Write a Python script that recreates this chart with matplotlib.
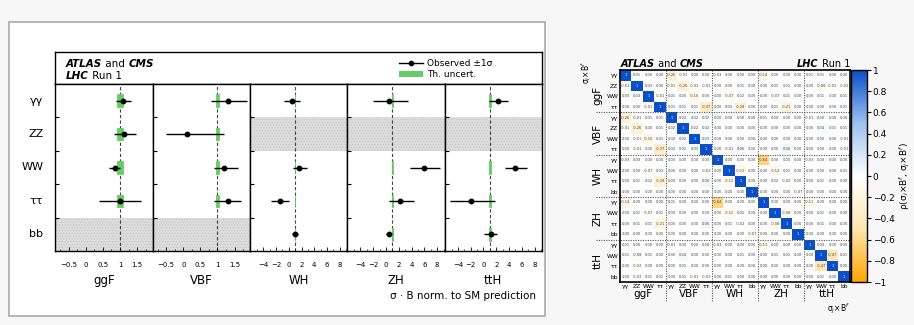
import numpy as np
import matplotlib
matplotlib.use("Agg")
import matplotlib.pyplot as plt
import matplotlib.transforms as mtransforms
from matplotlib.colors import LinearSegmentedColormap
from matplotlib.lines import Line2D
from matplotlib.patches import Patch, Rectangle

W, H = 914, 325

# ---- left chart data: signal strengths (value, +err, -err) and theory half-widths
PRODUCTION = ["ggF", "VBF", "WH", "ZH", "ttH"]
DECAYS = ["γγ", "ZZ", "WW", "ττ", "bb"]
NAN = np.nan
MU = {
    "ggF": [1.10, 1.13, 0.84, 1.00, NAN],
    "VBF": [1.30, 0.10, 1.20, 1.30, NAN],
    "WH":  [0.50, NAN, 1.60, -1.40, 1.00],
    "ZH":  [0.50, NAN, 5.90, 2.20, 0.40],
    "ttH": [2.20, NAN, 5.00, -1.90, 1.10],
}
ERR_UP = {
    "ggF": [0.23, 0.34, 0.17, 0.60, NAN],
    "VBF": [0.55, 1.10, 0.40, 0.40, NAN],
    "WH":  [1.30, NAN, 1.20, 1.40, 0.50],
    "ZH":  [3.00, NAN, 2.60, 2.20, 0.40],
    "ttH": [1.60, NAN, 1.80, 3.70, 1.00],
}
ERR_DN = {
    "ggF": [0.22, 0.31, 0.17, 0.60, NAN],
    "VBF": [0.50, 0.60, 0.30, 0.40, NAN],
    "WH":  [1.20, NAN, 1.00, 1.40, 0.50],
    "ZH":  [2.50, NAN, 2.20, 1.80, 0.40],
    "ttH": [1.30, NAN, 1.70, 3.30, 1.00],
}
TH_UNC = {
    "ggF": [0.10, 0.10, 0.10, 0.10, NAN],
    "VBF": [0.04, 0.04, 0.04, 0.04, NAN],
    "WH":  [0.05, NAN, 0.05, 0.05, 0.05],
    "ZH":  [0.07, NAN, 0.07, 0.07, 0.07],
    "ttH": [0.10, NAN, 0.10, 0.10, 0.10],
}
XLIMS = {"ggF": (-0.9, 1.95), "VBF": (-0.9, 1.95),
         "WH": (-6.1, 9.15), "ZH": (-6.1, 9.15), "ttH": (-6.1, 9.15)}
XTICKS_SMALL = [-0.5, 0, 0.5, 1, 1.5]
XTICKS_LARGE = [-4, -2, 0, 2, 4, 6, 8]

# ---- right chart data: correlation matrix
GROUPS = ["ggF", "VBF", "WH", "ZH", "ttH"]
GROUP_DECAYS = [["γγ", "ZZ", "WW", "ττ"], ["γγ", "ZZ", "WW", "ττ"],
                ["γγ", "WW", "ττ", "bb"], ["γγ", "WW", "ττ", "bb"],
                ["γγ", "WW", "ττ", "bb"]]
CORR = [
    [1, 0.01, 0.00, 0.00, -0.26, -0.01, 0.00, 0.00, -0.03, 0.00, 0.00, 0.00, -0.14, 0.00, 0.00, 0.00, 0.01, 0.01, 0.00, 0.00],
    [-0.01, 1, 0.03, 0.00, -0.01, -0.26, -0.01, -0.01, 0.00, 0.00, 0.01, 0.00, 0.00, 0.01, 0.01, 0.00, 0.00, -0.08, -0.02, -0.02],
    [0.00, 0.03, 1, -0.01, 0.01, 0.00, -0.16, 0.00, 0.00, -0.07, 0.02, 0.00, 0.00, -0.07, 0.01, 0.00, 0.00, 0.01, 0.00, 0.01],
    [0.00, 0.00, -0.01, 1, 0.01, 0.01, 0.01, -0.37, 0.00, 0.03, -0.28, 0.00, 0.00, 0.01, -0.21, 0.00, 0.00, 0.00, 0.00, 0.01],
    [-0.26, -0.01, 0.01, 0.01, 1, 0.02, 0.02, 0.02, 0.00, 0.00, 0.00, 0.00, 0.01, 0.00, 0.00, 0.00, -0.01, 0.00, 0.00, 0.00],
    [-0.01, -0.26, 0.00, 0.01, 0.02, 1, 0.02, 0.02, 0.00, 0.00, 0.00, 0.00, 0.00, 0.00, 0.00, 0.00, 0.00, 0.04, 0.01, 0.01],
    [0.00, -0.01, -0.16, 0.01, 0.02, 0.02, 1, 0.03, 0.00, 0.00, 0.00, 0.00, 0.00, 0.00, 0.00, 0.00, 0.00, 0.00, 0.00, -0.01],
    [0.00, -0.01, 0.00, -0.37, 0.02, 0.02, 0.03, 1, 0.00, -0.01, 0.06, 0.00, 0.00, 0.00, 0.06, 0.00, 0.00, 0.00, 0.00, -0.01],
    [-0.03, 0.00, 0.00, 0.00, 0.00, 0.00, 0.00, 0.00, 1, 0.00, 0.00, 0.00, -0.64, 0.00, 0.00, 0.00, -0.03, 0.00, 0.00, 0.00],
    [0.00, 0.00, -0.07, 0.03, 0.00, 0.00, 0.00, -0.01, 0.00, 1, -0.12, 0.00, 0.00, -0.12, 0.01, 0.00, 0.00, 0.00, 0.00, 0.01],
    [0.00, 0.01, 0.02, -0.28, 0.00, 0.00, 0.00, 0.06, 0.00, -0.12, 1, 0.00, 0.00, 0.02, -0.02, 0.00, 0.00, 0.01, 0.00, 0.00],
    [0.00, 0.00, 0.00, 0.00, 0.00, 0.00, 0.00, 0.00, 0.00, 0.00, 0.00, 1, 0.00, 0.00, 0.00, -0.07, 0.00, 0.00, 0.00, 0.00],
    [-0.14, 0.00, 0.00, 0.00, 0.01, 0.00, 0.00, 0.00, -0.64, 0.00, 0.00, 0.00, 1, 0.00, 0.00, 0.00, -0.11, 0.00, 0.00, 0.00],
    [0.00, 0.01, -0.07, 0.01, 0.00, 0.00, 0.00, 0.00, 0.00, -0.12, 0.02, 0.00, 0.00, 1, -0.08, 0.00, 0.00, 0.01, 0.00, 0.00],
    [0.00, 0.01, 0.01, -0.21, 0.00, 0.00, 0.00, 0.06, 0.00, 0.01, -0.02, 0.00, 0.00, -0.08, 1, 0.00, 0.00, 0.01, 0.00, 0.00],
    [0.00, 0.00, 0.00, 0.00, 0.00, 0.00, 0.00, 0.00, 0.00, 0.00, 0.00, -0.07, 0.00, 0.00, 0.00, 1, 0.00, 0.00, 0.00, 0.00],
    [0.01, 0.00, 0.00, 0.00, -0.01, 0.00, 0.00, 0.00, -0.03, 0.00, 0.00, 0.00, -0.11, 0.00, 0.00, 0.00, 1, 0.00, 0.00, 0.00],
    [0.01, -0.08, 0.01, 0.00, 0.00, 0.04, 0.00, 0.00, 0.00, 0.00, 0.01, 0.00, 0.00, 0.01, 0.01, 0.00, 0.00, 1, -0.47, 0.01],
    [0.00, -0.02, 0.00, 0.00, 0.00, 0.01, 0.00, 0.00, 0.00, 0.00, 0.00, 0.00, 0.00, 0.00, 0.00, 0.00, 0.00, -0.47, 1, 0.00],
    [0.00, -0.02, 0.01, 0.01, 0.00, 0.01, -0.01, -0.01, 0.00, 0.01, 0.00, 0.00, 0.00, 0.00, 0.00, 0.00, 0.00, 0.01, 0.00, 1],
]
CBAR_TICKS = [-1, -0.8, -0.6, -0.4, -0.2, 0, 0.2, 0.4, 0.6, 0.8, 1]

GREEN = "#66cc66"
plt.rcParams["font.family"] = ["DejaVu Sans"]
plt.rcParams["hatch.color"] = "#bdbdbd"
plt.rcParams["hatch.linewidth"] = 0.5


def box(x0, y0, x1, y1):
    """pixel box (top-left origin) -> figure fraction rect"""
    return [x0 / W, 1 - y1 / H, (x1 - x0) / W, (y1 - y0) / H]


def rich_text(fig, x, y, parts, size):
    """draw pieces of text one after another (bold-italic / normal)"""
    r = fig.canvas.get_renderer()
    tr = fig.transFigure
    for s, bold in parts:
        kw = dict(fontweight="bold", fontstyle="italic") if bold else {}
        t = fig.text(x, y, s, transform=tr, fontsize=size, va="baseline", **kw)
        bb = t.get_window_extent(r)
        tr = mtransforms.offset_copy(t.get_transform(), fig=fig, x=bb.width, units="dots")


fig = plt.figure(figsize=(W / 100, H / 100), dpi=100)
fig.patch.set_facecolor("#f7f7f7")
fig.patches.append(Rectangle((9 / W, 1 - 316 / H), (545 - 9) / W, (316 - 22) / H,
                             transform=fig.transFigure, facecolor="white",
                             edgecolor="#aaaaaa", lw=1.2, zorder=-5))

# ---------------- left: signal strengths ----------------
edges = [55, 152.5, 250, 347, 444.5, 542]
hdr = fig.add_axes(box(55, 52, 542, 84))
hdr.set_xticks([])
hdr.set_yticks([])
for s in hdr.spines.values():
    s.set_linewidth(1.0)
handles = [Line2D([], [], color="k", marker="o", ms=3, lw=1),
           Patch(facecolor=GREEN, edgecolor="none")]
hdr.legend(handles, ["Observed ±1σ", "Th. uncert."], loc="upper left",
           bbox_to_anchor=(0.69, 1.04), frameon=False, fontsize=6.5,
           handlelength=2.6, labelspacing=0.25, handletextpad=0.5)
fig.canvas.draw()
rich_text(fig, 66 / W, 1 - 67 / H, [("ATLAS", True), (" and ", False), ("CMS", True)], 7.5)
rich_text(fig, 66 / W, 1 - 79 / H, [("LHC", True), (" Run 1", False)], 7.5)

for k, prod in enumerate(PRODUCTION):
    ax = fig.add_axes(box(edges[k], 84, edges[k + 1], 251))
    lo, hi = XLIMS[prod]
    ax.set_xlim(lo, hi)
    ax.set_ylim(len(DECAYS), 0)
    ax.axvline(1, color="#444444", ls=(0, (3, 2)), lw=0.8, zorder=1)
    for i in range(len(DECAYS)):
        yc = i + 0.5
        if np.isnan(MU[prod][i]):
            ax.add_patch(Rectangle((lo, i), hi - lo, 1, facecolor="#dddddd",
                                   hatch="......", edgecolor="#c4c4c4", lw=0, zorder=0))
            continue
        th = TH_UNC[prod][i]
        ax.barh(yc, 2 * th, left=1 - th, height=0.38, color=GREEN,
                edgecolor=GREEN, lw=0.6, zorder=2)
        ax.errorbar(MU[prod][i], yc, xerr=[[ERR_DN[prod][i]], [ERR_UP[prod][i]]],
                    fmt="o", color="k", ms=3.2, lw=1, capsize=0, zorder=3)
    ticks = XTICKS_SMALL if k < 2 else XTICKS_LARGE
    ax.set_xticks(ticks)
    ax.set_xticklabels([("%g" % t).replace("-", "−") for t in ticks], fontsize=5)
    minor_step = 0.25 if k < 2 else 1.0
    ax.set_xticks(np.arange(ticks[0] - minor_step, hi, minor_step), minor=True)
    ax.tick_params(axis="x", which="major", direction="in", length=3, pad=8, width=0.6)
    ax.tick_params(axis="x", which="minor", direction="in", length=1.5, width=0.5)
    ax.set_yticks(range(1, len(DECAYS)))
    ax.set_yticklabels([])
    ax.tick_params(axis="y", direction="in", length=3, width=0.8)
    for s in ax.spines.values():
        s.set_linewidth(1.0)
    ax.set_xlabel(prod, fontsize=8.5, labelpad=4)
    if k == 0:
        for i, d in enumerate(DECAYS):
            ax.text(-0.12, i + 0.5, d, transform=ax.get_yaxis_transform(),
                    ha="right", va="center", fontsize=8)

fig.text(390 / W, 1 - 296 / H, "σ · B norm. to SM prediction", fontsize=7.5, va="center")

# ---------------- right: correlation matrix ----------------
cmap = LinearSegmentedColormap.from_list("rho", ["#ffa500", "#ffe6b0", "#ffffff", "#9cc0ef", "#0a4fc8"])
corr = np.array(CORR)
n = corr.shape[0]
axm = fig.add_axes(box(620, 70, 850, 282))
im = axm.imshow(corr, cmap=cmap, vmin=-1, vmax=1, aspect="auto", interpolation="nearest")
for i in range(n):
    for j in range(n):
        v = corr[i, j]
        s = "1" if i == j else ("%.2f" % v)
        axm.text(j, i, s, ha="center", va="center", fontsize=2.6,
                 color="#e8efff" if i == j else "#444444")

labels = [d for g in GROUP_DECAYS for d in g]
axm.set_xticks(range(n))
axm.set_xticklabels(labels, fontsize=4.3)
axm.set_yticks(range(n))
axm.set_yticklabels(labels, fontsize=4.3)
axm.tick_params(length=0, pad=1.2)
for s in axm.spines.values():
    s.set_linewidth(1.2)
for b in [3.5, 7.5, 11.5, 15.5]:
    axm.plot([b, b], [-0.5, n + 1.3], color="#555555", ls=(0, (1, 1.2)), lw=0.8, clip_on=False)
    axm.plot([-2.6, n - 0.5], [b, b], color="#555555", ls=(0, (1, 1.2)), lw=0.8, clip_on=False)
for g, name in enumerate(GROUPS):
    c = 4 * g + 1.5
    axm.text(c, n + 0.6, name, ha="center", va="center", fontsize=7.5, clip_on=False)
    yc = c + 0.4 if g == 0 else c
    axm.text(-2.45, yc, name, ha="center", va="center", rotation=90, fontsize=7.5, clip_on=False)
axm.set_ylim(n - 0.5, -0.5)
axm.set_xlim(-0.5, n - 0.5)
fig.text(586 / W, 1 - 61 / H, r"σ$_i$×B$^f$", rotation=90, ha="center", va="top", fontsize=5.5)
fig.text(850 / W, 1 - 309 / H, r"σ$_j$×B$^f$", ha="right", va="center", fontsize=5.5)
rich_text(fig, 621 / W, 1 - 67 / H, [("ATLAS", True), (" and ", False), ("CMS", True)], 7)
t = fig.text(850 / W, 1 - 67 / H, " Run 1", ha="right", va="baseline", fontsize=7)
fig.canvas.draw()
bb = t.get_window_extent(fig.canvas.get_renderer())
fig.text(bb.x0 / fig.dpi / fig.get_size_inches()[0], 1 - 67 / H, "LHC", ha="right",
         va="baseline", fontsize=7, fontweight="bold", fontstyle="italic")

cax = fig.add_axes(box(851, 70, 867, 282))
cb = fig.colorbar(im, cax=cax, ticks=CBAR_TICKS)
cb.ax.set_yticklabels([("%g" % v).replace("-", "−") for v in CBAR_TICKS], fontsize=6.5)
cb.ax.tick_params(length=3, width=0.8, pad=1)
cb.outline.set_linewidth(1.0)
cb.set_label(r"ρ(σ$_i$×B$^f$, σ$_j$×B$^f$)", fontsize=6.5, labelpad=2)

fig.savefig("out.png", dpi=100, facecolor=fig.get_facecolor())
